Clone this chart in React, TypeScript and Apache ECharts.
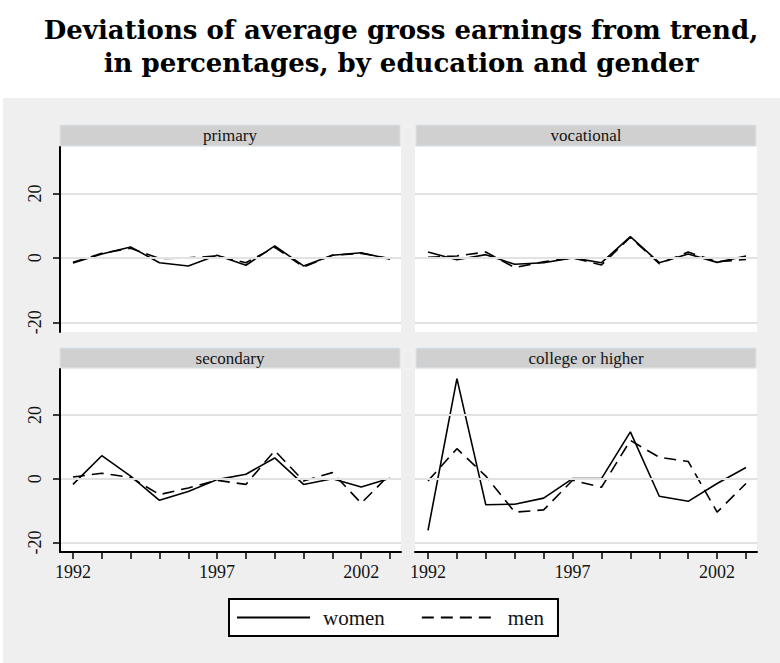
import React, { useEffect, useRef } from "react";
import * as echarts from "echarts";

const titleLines = [
  "Deviations of average gross earnings from trend,",
  "in percentages, by education and gender",
];
const panelNames = ["primary", "vocational", "secondary", "college or higher"];
const years = [1992, 1993, 1994, 1995, 1996, 1997, 1998, 1999, 2000, 2001, 2002, 2003];
const xLabelYears = [1992, 1997, 2002];
const yTickValues = [-20, 0, 20];
const seriesNames = ["women", "men"];

const primaryWomen = [-1.6, 1.2, 3.4, -1.5, -2.5, 0.8, -2.3, 3.7, -2.5, 0.8, 1.6, -0.4];
const primaryMen = [-1.4, 1.4, 3.0, -0.2, 0.0, 0.6, -1.5, 3.3, -2.8, 0.8, 1.4, -0.2];
const vocationalWomen = [1.8, -0.6, 1.0, -2.0, -1.5, 0.0, -1.5, 6.6, -1.5, 1.2, -1.4, 0.6];
const vocationalMen = [0.2, 0.6, 1.8, -3.0, -1.2, 0.0, -2.2, 6.4, -1.8, 1.8, -1.2, -0.5];
const secondaryWomen = [-1.8, 7.2, 0.8, -6.8, -4.0, -0.3, 1.4, 6.5, -1.8, 0.0, -2.6, 0.1];
const secondaryMen = [0.5, 1.7, 0.4, -5.0, -2.9, -0.5, -1.8, 8.8, -0.7, 1.9, -7.7, 1.4];
const collegeWomen = [-16.2, 31.4, -8.2, -8.0, -6.1, 0.0, 0.0, 14.7, -5.5, -7.1, -1.5, 3.5];
const collegeMen = [-0.7, 9.4, 0.8, -10.5, -9.8, -0.5, -2.7, 12.0, 6.7, 5.4, -10.5, -1.5];

const panelData = [
  [primaryWomen, primaryMen],
  [vocationalWomen, vocationalMen],
  [secondaryWomen, secondaryMen],
  [collegeWomen, collegeMen],
];

const SERIF = "'Liberation Serif', 'Times New Roman', serif";
const TEXT = "#141414";

export default function App() {
  const ref = useRef<HTMLDivElement>(null);

  useEffect(() => {
    document.body.style.margin = "0";
    const chart = echarts.init(ref.current!, null, { renderer: "svg" });

    const grids = [
      { left: 60, top: 147, width: 341, height: 185 },
      { left: 415, top: 147, width: 342, height: 185 },
      { left: 60, top: 369, width: 341, height: 183 },
      { left: 415, top: 369, width: 342, height: 183 },
    ];
    const strips = [
      { x: 60, y: 125, w: 340, h: 21 },
      { x: 416, y: 125, w: 340, h: 21 },
      { x: 60, y: 348, w: 340, h: 20 },
      { x: 416, y: 348, w: 340, h: 20 },
    ];

    const xAxis = grids.map((_, i) => ({
      type: "value",
      gridIndex: i,
      min: 1991.55,
      max: 2003.38,
      show: i >= 2,
      z: 5,
      axisLine: { show: true, onZero: false, lineStyle: { color: "#000", width: 2 } },
      axisTick: {
        show: true,
        customValues: years,
        length: 7,
        lineStyle: { color: "#000", width: 1.5 },
      },
      axisLabel: {
        show: true,
        customValues: xLabelYears,
        formatter: (v: number) => String(v),
        fontFamily: SERIF,
        fontSize: 18,
        color: TEXT,
        margin: 11,
      },
      splitLine: { show: false },
    }));

    const yAxis = grids.map((_, i) => {
      const left = i % 2 === 0;
      return {
        type: "value",
        gridIndex: i,
        min: -23,
        max: 34.4,
        z: 5,
        axisLine: { show: left, onZero: false, lineStyle: { color: "#000", width: 2 } },
        axisTick: {
          show: left,
          customValues: yTickValues,
          length: 7,
          lineStyle: { color: "#000", width: 1.5 },
        },
        axisLabel: {
          show: left,
          customValues: yTickValues,
          rotate: 90,
          fontFamily: SERIF,
          fontSize: 18,
          color: TEXT,
          margin: 16,
        },
        splitLine: { show: false },
      };
    });

    const series: any[] = [];
    panelData.forEach((pair, i) => {
      series.push({
        type: "line",
        xAxisIndex: i,
        yAxisIndex: i,
        data: [],
        z: 1,
        silent: true,
        markLine: {
          silent: true,
          symbol: ["none", "none"],
          label: { show: false },
          lineStyle: { color: "#e2e2e2", width: 2, type: "solid" },
          emphasis: { disabled: true },
          data: yTickValues.map((v) => ({ yAxis: v })),
        },
      });
      pair.forEach((vals, k) => {
        series.push({
          name: seriesNames[k],
          type: "line",
          xAxisIndex: i,
          yAxisIndex: i,
          symbol: "none",
          z: 3,
          data: years.map((y, j) => [y, vals[j]]),
          lineStyle: {
            color: "#000",
            width: 1.6,
            type: k === 0 ? "solid" : [12, 7],
          },
          itemStyle: { color: "#000" },
        });
      });
    });

    const graphic: any[] = [
      {
        type: "rect",
        z: -10,
        shape: { x: 3, y: 98, width: 777, height: 565 },
        style: { fill: "#efefef" },
      },
    ];
    strips.forEach((s, i) => {
      graphic.push({
        type: "rect",
        z: 1,
        shape: { x: s.x, y: s.y, width: s.w, height: s.h },
        style: { fill: "#d0d0d0", stroke: "#dae5eb", lineWidth: 1 },
      });
      graphic.push({
        type: "text",
        z: 2,
        x: s.x + s.w / 2,
        y: s.y + s.h / 2,
        style: {
          text: panelNames[i],
          fill: TEXT,
          font: `17px ${SERIF}`,
          textAlign: "center",
          textVerticalAlign: "middle",
        },
      });
    });

    chart.setOption({
      animation: false,
      backgroundColor: "#ffffff",
      title: {
        text: titleLines.join("\n"),
        left: 396,
        top: 8,
        textAlign: "center",
        textStyle: {
          fontFamily: "'DejaVu Serif', serif",
          fontWeight: "bold",
          fontSize: 26,
          lineHeight: 33,
          color: "#000",
        },
      },
      grid: grids.map((g) => ({
        ...g,
        show: true,
        backgroundColor: "#ffffff",
        borderWidth: 0,
        containLabel: false,
      })),
      xAxis,
      yAxis,
      legend: {
        data: seriesNames.map((n) => ({ name: n, textStyle: { padding: [0, 0, 0, 8] } })),
        left: 229,
        top: 599,
        orient: "horizontal",
        itemWidth: 73,
        itemHeight: 14,
        itemGap: 36,
        padding: [8, 14, 8, 7],
        borderColor: "#000",
        borderWidth: 2,
        borderRadius: 0,
        backgroundColor: "#ffffff",
        selectedMode: false,
        itemStyle: { opacity: 0, borderWidth: 0 },
        textStyle: { fontFamily: SERIF, fontSize: 21, color: TEXT },
      },
      graphic,
      series,
    });

    return () => chart.dispose();
  }, []);

  return <div ref={ref} style={{ width: 780, height: 663 }} />;
}
